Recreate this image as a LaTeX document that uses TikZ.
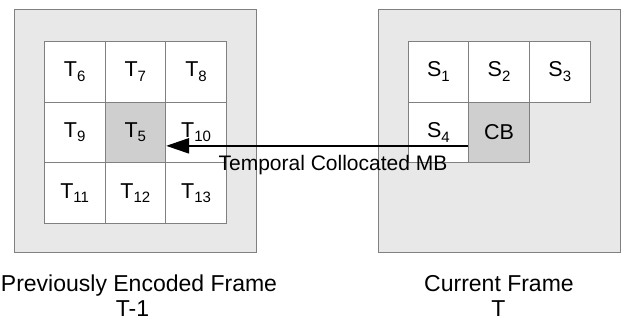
\documentclass[tikz,border=0pt]{standalone}
\usepackage{fontspec}
\setmainfont{Liberation Sans}
\usetikzlibrary{arrows.meta}
\newcommand{\mysb}[1]{\raisebox{-4.5pt}{\fontsize{15}{15}\selectfont #1}}
\begin{document}
\begin{tikzpicture}[x=1pt,y=-1pt,
  frame/.style={draw=black!50,fill=black!9,line width=1pt,minimum width=242pt,minimum height=243pt,inner sep=0pt},
  cell/.style={draw=black!50,fill=white,line width=0.8pt,minimum size=60.7pt,inner sep=0pt,font=\fontsize{21.5}{21.5}\selectfont},
  hot/.style={cell,fill=black!19},
  caption/.style={font=\fontsize{23}{23}\selectfont,inner sep=0pt,anchor=base},
  arrowlabel/.style={font=\fontsize{21}{21}\selectfont,inner sep=0pt,anchor=base},
  link/.style={-{Triangle[length=23pt,width=15pt]},line width=2.4pt}
]
\useasboundingbox (0,0) rectangle (625,320);
% frames
\node[frame] (F1) at (135,131.5) {};
\node[frame] (F2) at (499.5,131.5) {};
% previous frame grid
\node[cell] (T6)  at (74.65,71.65)  {T\mysb{6}};
\node[cell] (T7)  at (135.35,71.65) {T\mysb{7}};
\node[cell] (T8)  at (196.05,71.65) {T\mysb{8}};
\node[cell] (T9)  at (74.65,132.35)  {T\mysb{9}};
\node[hot]  (T5)  at (135.35,132.35) {T\mysb{5}};
\node[cell] (T10) at (196.05,132.35) {T\mysb{10}};
\node[cell] (T11) at (74.65,193.05)  {T\mysb{11}};
\node[cell] (T12) at (135.35,193.05) {T\mysb{12}};
\node[cell] (T13) at (196.05,193.05) {T\mysb{13}};
% current frame grid
\node[cell] (S1) at (438.35,71.65) {S\mysb{1}};
\node[cell] (S2) at (499.05,71.65) {S\mysb{2}};
\node[cell] (S3) at (559.75,71.65) {S\mysb{3}};
\node[cell] (S4) at (438.35,132.35) {S\mysb{4}};
\node[hot]  (CB) at (499.05,132.35) {CB};
% arrow
\draw[link] ([yshift=-13.5pt]CB.west) -- ([yshift=-13.5pt]T5.east);
\node[arrowlabel] (lbl) at (333,171) {Temporal Collocated MB};
% captions
\node[caption] (c1) at (139,292) {Previously Encoded Frame};
\node[caption] (c1b) at (132.5,316.5) {T-1};
\node[caption] (c2) at (499,292) {Current Frame};
\node[caption] (c2b) at (498.5,316.5) {T};
\end{tikzpicture}
\end{document}
